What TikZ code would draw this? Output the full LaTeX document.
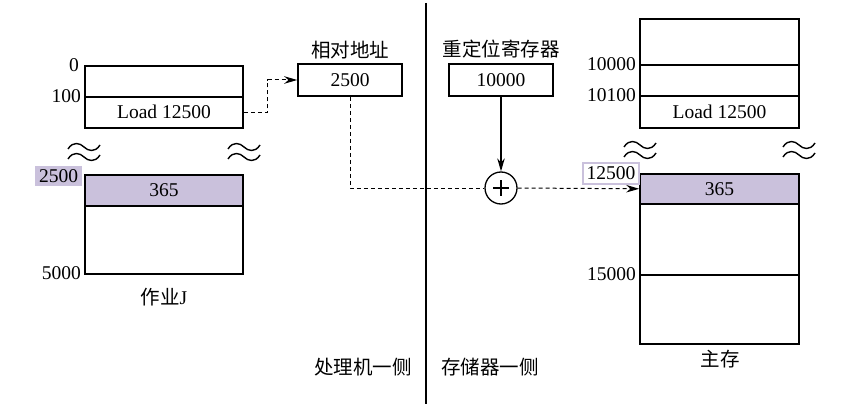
\documentclass[tikz,border=0pt]{standalone}
\usepackage{fontspec}
\setmainfont{Liberation Serif}
\newfontfamily\cjk{Noto Sans CJK SC}
\usetikzlibrary{arrows.meta}
\definecolor{lav}{RGB}{202,193,220}
\begin{document}
\begin{tikzpicture}[x=1pt,y=-1pt,
  every node/.style={font=\fontsize{19.5}{22}\selectfont, inner sep=0pt},
  cell/.style={draw, line width=1.6pt, minimum width=158pt, anchor=north},
  lbl/.style={anchor=east},
  reg/.style={draw, line width=1.6pt, minimum width=104pt, minimum height=32pt},
  dsh/.style={line width=1pt, dash pattern=on 4pt off 3pt},
  tip/.style={-{Stealth[length=13pt,width=7.5pt]}},
  wave/.style={line width=1.4pt}
]
\useasboundingbox (0,0) rectangle (855,404);
% divider
\draw[line width=1.3pt] (426,3) -- (426,404);

% job J
\node[cell, minimum height=31pt] (j0) at (164,65) {};
\node[cell, minimum height=31pt] (jload) at (164,96) {Load 12500};
\node[cell, minimum height=31pt, fill=lav] (j365) at (164,174) {365};
\node[cell, minimum height=68pt] (jbot) at (164,205) {};
\node[lbl] (l0) at (79,65) {0};
\node[lbl] (l100) at (81,96) {100};
\node[fill=lav, minimum width=47pt, minimum height=20pt] (l2500) at (58.5,176) {2500};
\node[lbl] (l5000) at (81,273) {5000};
\node (jname) at (164,297) {{\cjk 作业}J};

% memory
\node[cell, minimum width=159pt, minimum height=46pt] (m0) at (719.5,18) {};
\node[cell, minimum width=159pt, minimum height=31pt] (m1) at (719.5,64) {};
\node[cell, minimum width=159pt, minimum height=32pt] (mload) at (719.5,95) {Load 12500};
\node[cell, minimum width=159pt, minimum height=30pt, fill=lav] (m365) at (719.5,173) {365};
\node[cell, minimum width=159pt, minimum height=71pt] (m3) at (719.5,203) {};
\node[cell, minimum width=159pt, minimum height=69pt] (m4) at (719.5,274) {};
\node[lbl] (l10000) at (636,64) {10000};
\node[lbl] (l10100) at (636,95) {10100};
\node[draw=lav, line width=1.8pt, minimum width=56pt, minimum height=21pt] (l12500) at (611,173.5) {12500};
\node[lbl] (l15000) at (636,274) {15000};
\node (mname) at (720,359) {\cjk 主存};

% waves
\foreach \cx/\cy in {84/147, 84/157, 244/147, 244/157, 640/145, 640/155, 799/145, 799/155}{
  \draw[wave] (\cx-16,\cy+2) .. controls (\cx-11,\cy-6) and (\cx-4,\cy-4) .. (\cx,\cy)
     .. controls (\cx+4,\cy+4) and (\cx+11,\cy+6) .. (\cx+16,\cy-2);
}

% registers
\node[reg] (rel) at (350,80) {2500};
\node (reltitle) at (350,50) {\cjk 相对地址};
\node[reg] (relo) at (501,80) {10000};
\node (relotitle) at (501,49) {\cjk 重定位寄存器};
\node[draw, circle, line width=1.3pt, minimum size=32pt] (plus) at (501,188) {};
\draw[line width=1.1pt] (plus.center) ++(-8,0) -- ++(16,0);
\draw[line width=1.1pt] (plus.center) ++(0,-8) -- ++(0,16);

% connectors
\draw[dsh, tip] (jload.east) -- ++(24,0) |- (rel.west);
\draw[dsh] (rel.south) |- (plus.west);
\draw[dsh, tip] (plus.east) -- (m365.west);
\draw[line width=1.2pt, tip] (relo.south) -- (plus.north);

% side labels
\node (proc) at (363,367) {\cjk 处理机一侧};
\node (stor) at (490,367) {\cjk 存储器一侧};
\end{tikzpicture}
\end{document}
